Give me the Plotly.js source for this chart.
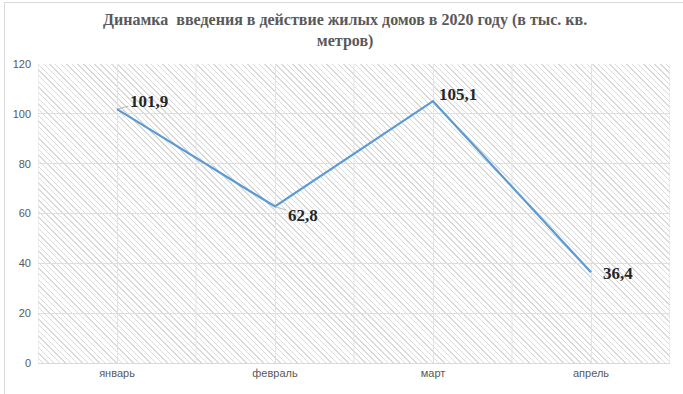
<!DOCTYPE html>
<html>
<head>
<meta charset="utf-8">
<script src="https://cdn.plot.ly/plotly-3.0.1.min.js"></script>
<style>
  html, body { margin: 0; padding: 0; background: #ffffff; }
  #wrap { position: relative; width: 683px; height: 394px; overflow: hidden; }
  #frame { position: absolute; left: 4px; top: 2px; width: 690px; height: 400px; border: 1px solid #d9d9d9; box-sizing: border-box; }
  #hatch { position: absolute; left: 38px; top: 64px; width: 632px; height: 299px;
    background: repeating-linear-gradient(45deg, #ffffff 0px, #ffffff 3px, #dadada 3px, #dadada 4px); }
  #chart { position: absolute; left: 0; top: 0; width: 683px; height: 394px; }
</style>
</head>
<body>
<div id="wrap">
  <div id="frame"></div>
  <div id="hatch"></div>
  <div id="chart"></div>
</div>
<script>
const months = ['январь', 'февраль', 'март', 'апрель'];
const values = [101.9, 62.8, 105.1, 36.4];
const valueLabels = ['101,9', '62,8', '105,1', '36,4'];
const yTicks = [0, 20, 40, 60, 80, 100, 120];
const titleText = 'Динамка&nbsp; введения в действие жилых домов в 2020 году (в тыс. кв.<br>метров)';

// label placement offsets (pixels) for each point
const labelOffsets = [
  { ax: 32, ay: -8, arrow: true },
  { ax: 28, ay: 9, arrow: true },
  { ax: 25, ay: -7, arrow: false },
  { ax: 27, ay: 1, arrow: false }
];

const annotations = values.map((v, i) => ({
  x: months[i], y: v, xref: 'x', yref: 'y',
  text: valueLabels[i],
  showarrow: true,
  arrowhead: 0, arrowwidth: 0.8, arrowcolor: labelOffsets[i].arrow ? '#a6a6a6' : 'rgba(0,0,0,0)',
  ax: labelOffsets[i].ax, ay: labelOffsets[i].ay,
  standoff: 0, startstandoff: 0,
  font: { family: 'Liberation Serif, Times New Roman, serif', size: 17, color: '#262626', weight: 'bold' },
  xanchor: 'center', yanchor: 'middle'
}));

annotations.push({
  text: titleText, xref: 'paper', yref: 'paper', x: 0.486, y: 1.112,
  xanchor: 'center', yanchor: 'middle', showarrow: false, align: 'center',
  font: { family: 'Liberation Serif, Times New Roman, serif', size: 16, color: '#595959', weight: 'bold' }
});

// minor vertical gridlines at category boundaries
const shapes = [];
for (let k = 0; k <= months.length; k++) {
  shapes.push({ type: 'line', xref: 'x', yref: 'paper', x0: k - 0.5, x1: k - 0.5, y0: 0, y1: 1,
    line: { color: '#e3e3e3', width: 1 }, layer: 'below' });
}

const trace = {
  x: months, y: values, type: 'scatter', mode: 'lines',
  line: { color: '#5b9bd5', width: 2.25 },
  hoverinfo: 'skip'
};

const layout = {
  width: 683, height: 394,
  margin: { l: 38, r: 13, t: 64, b: 31 },
  paper_bgcolor: 'rgba(0,0,0,0)', plot_bgcolor: 'rgba(0,0,0,0)',
  showlegend: false,
  xaxis: {
    type: 'category', range: [-0.5, 3.5],
    showgrid: true, gridcolor: '#e3e3e3', gridwidth: 1,
    showline: true, linecolor: '#d9d9d9', linewidth: 1,
    ticks: '', tickfont: { family: 'Liberation Sans, Arial, sans-serif', size: 11, color: '#595959' },
    zeroline: false, fixedrange: true
  },
  yaxis: {
    range: [0, 120], tickmode: 'array', tickvals: yTicks,
    showgrid: true, gridcolor: '#dedede', gridwidth: 1,
    showline: false, zeroline: false, ticks: '',
    tickfont: { family: 'Liberation Sans, Arial, sans-serif', size: 11, color: '#595959' },
    ticklabelstandoff: 6, fixedrange: true
  },
  annotations: annotations,
  shapes: shapes
};

Plotly.newPlot('chart', [trace], layout, { staticPlot: true, displayModeBar: false });
</script>
</body>
</html>
